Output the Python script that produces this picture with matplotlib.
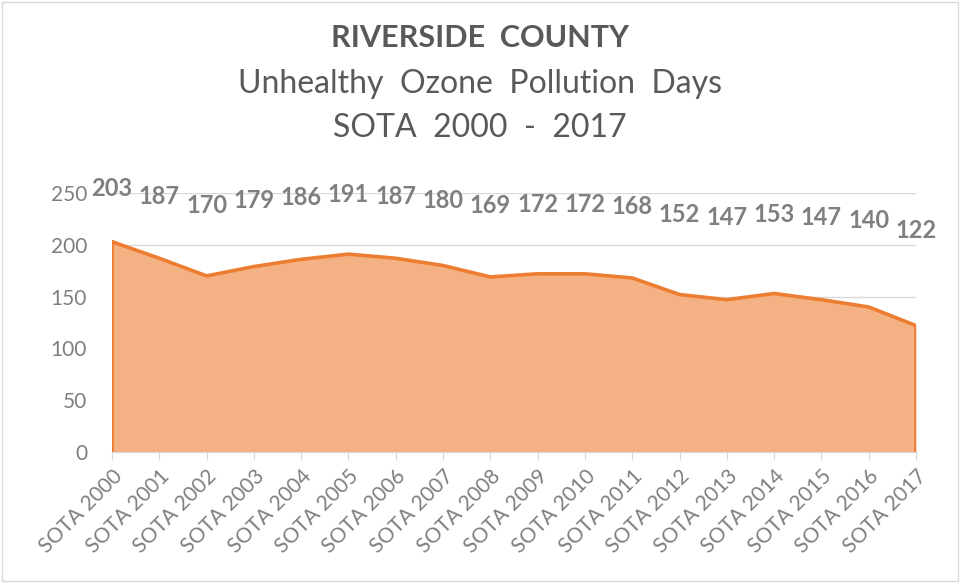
import matplotlib.pyplot as plt
from matplotlib.patches import Rectangle

# Riverside County - unhealthy ozone days per SOTA report
years = [f"SOTA {y}" for y in range(2000, 2018)]
days = [203, 187, 170, 179, 186, 191, 187, 180, 169, 172, 172, 168, 152, 147, 153, 147, 140, 122]
y_ticks = [0, 50, 100, 150, 200, 250]

plt.rcParams['font.family'] = ['Lato', 'DejaVu Sans']
gray = '#7f7f7f'

fig = plt.figure(figsize=(9.6, 5.83), dpi=100)
ax = fig.add_axes([112 / 960, 1 - 452 / 583, (916 - 112) / 960, (452 - 193) / 583])

x = list(range(len(days)))
ax.fill_between(x, days, 0, color='#f4b183', linewidth=0)
ax.plot(x, days, color='#ed7d31', linewidth=2.6)
ax.plot([x[0], x[0]], [0, days[0]], color='#ed7d31', linewidth=2.6)
ax.plot([x[-1], x[-1]], [0, days[-1]], color='#ed7d31', linewidth=2.6)

# value labels (Excel puts them roughly half-way above the area)
for xi, v in zip(x, days):
    ax.text(xi, v / 2 + 153, str(v), ha='center', va='center', fontsize=17,
            fontweight='bold', color=gray, clip_on=False)

ax.set_xlim(0, len(days) - 1)
ax.set_ylim(0, 250)
ax.set_yticks(y_ticks)
ax.set_yticklabels([str(t) for t in y_ticks], fontsize=15, color=gray)
ax.set_xticks(x)
ax.set_xticklabels(years, rotation=45, ha='right', rotation_mode='anchor',
                   fontsize=15, color=gray)
ax.grid(axis='y', color='#d9d9d9', linewidth=1)
ax.set_axisbelow(True)
for s in ['top', 'right', 'left']:
    ax.spines[s].set_visible(False)
ax.spines['bottom'].set_color('#d9d9d9')
ax.tick_params(axis='y', length=0, pad=18)
ax.tick_params(axis='x', length=6, color='#d9d9d9', pad=4)

fig.text(0.5, 1 - 38 / 583, 'RIVERSIDE  COUNTY', ha='center', va='center',
         fontsize=22, fontweight='bold', color='#595959')
fig.text(0.5, 1 - 84 / 583, 'Unhealthy  Ozone  Pollution  Days', ha='center', va='center',
         fontsize=23, color='#595959')
fig.text(0.5, 1 - 128 / 583, 'SOTA  2000  -  2017', ha='center', va='center',
         fontsize=23, color='#595959')

fig.patches.append(Rectangle((2 / 960, 2 / 583), 956 / 960, 579 / 583, transform=fig.transFigure,
                             fill=False, edgecolor='#d9d9d9', linewidth=1))

fig.savefig('out.png', dpi=100)
